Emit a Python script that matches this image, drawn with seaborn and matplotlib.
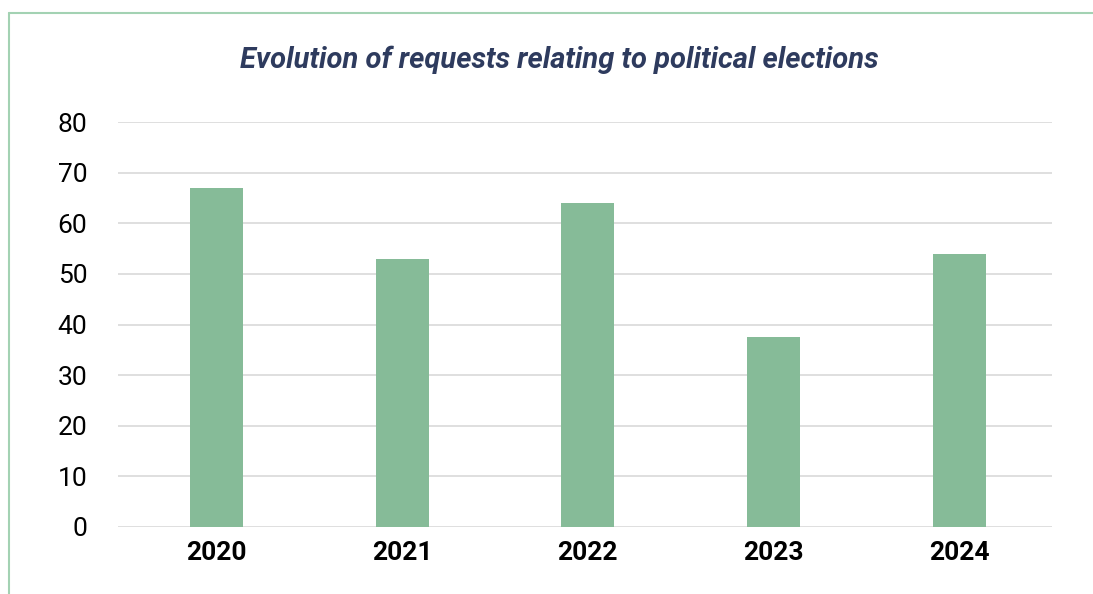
import matplotlib
matplotlib.use("Agg")
import matplotlib.pyplot as plt
import pandas as pd
import seaborn as sns
from matplotlib.lines import Line2D

years = ["2020", "2021", "2022", "2023", "2024"]
requests = [67, 53, 64, 37.5, 54]
y_ticks = [0, 10, 20, 30, 40, 50, 60, 70, 80]
title = "Evolution of requests relating to political elections"

df = pd.DataFrame({"year": years, "requests": requests})

sns.set_theme(style="white")
plt.rcParams["font.family"] = ["Roboto", "DejaVu Sans"]

fig = plt.figure(figsize=(10.93, 5.94), dpi=100)
ax = fig.add_axes([0.108, 0.1128, 0.8545, 0.6818])

sns.barplot(data=df, x="year", y="requests", color="#86BB98", saturation=1,
            width=0.285, linewidth=0, ax=ax, zorder=3)

ax.set_ylim(0, 80)
ax.set_yticks(y_ticks)
ax.set_xlim(-0.53, len(years) - 0.5)
ax.yaxis.grid(True, color="#D9D9D9", linewidth=1.2, zorder=0)
ax.xaxis.grid(False)
for s in ax.spines.values():
    s.set_visible(False)
ax.set_xlabel("")
ax.set_ylabel("")
ax.tick_params(axis="y", length=0, pad=22, labelsize=19, labelcolor="#000000")
ax.tick_params(axis="x", length=0, pad=10, labelsize=19, labelcolor="#000000")
for lab in ax.get_xticklabels():
    lab.set_fontweight("bold")

fig.text(0.5114, 0.9, title, ha="center", va="center", fontsize=21,
         fontweight="bold", fontstyle="italic", color="#2E3B5E")

# outer frame (left and top edges only visible)
fig.add_artist(Line2D([9 / 1093, 9 / 1093], [0, 1 - 13 / 594],
                      transform=fig.transFigure, color="#A3D2B3", linewidth=1.5))
fig.add_artist(Line2D([9 / 1093, 1], [1 - 13 / 594, 1 - 13 / 594],
                      transform=fig.transFigure, color="#A3D2B3", linewidth=1.5))

fig.savefig("out.png", dpi=100)
